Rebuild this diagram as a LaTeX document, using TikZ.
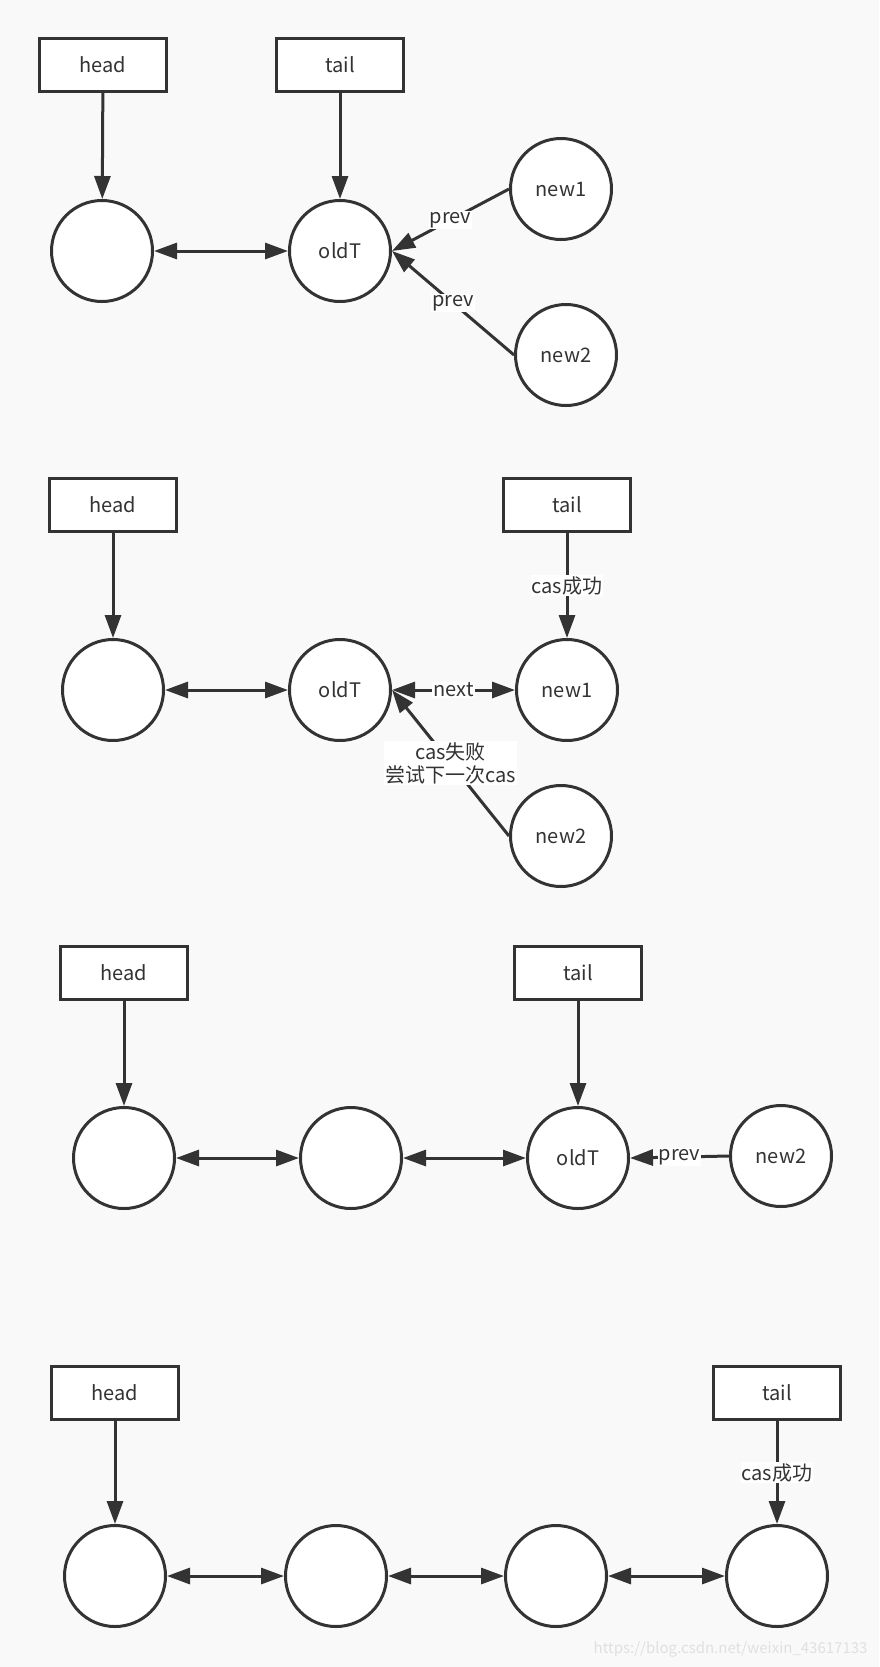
\documentclass[tikz,border=0pt]{standalone}
\usepackage{fontspec}
\setmainfont{Noto Sans CJK SC}
\usetikzlibrary{arrows.meta, positioning}
\definecolor{ink}{HTML}{333333}
\definecolor{paper}{HTML}{F9F9F9}
\tikzset{>={Triangle[length=23pt,width=16pt]}}

\begin{document}
\begin{tikzpicture}[x=1pt,y=-1pt,line width=3pt,color=ink,
    font=\fontsize{20}{23}\selectfont,
    ptr/.style={draw,fill=white,minimum width=127pt,minimum height=53pt,inner sep=0pt},
    cell/.style={circle,draw,fill=white,minimum size=101pt,inner sep=0pt},
    lbl/.style={fill=white,inner sep=1pt}]
    \useasboundingbox (0,0) rectangle (879,1667);
    \fill[paper] (0,0) rectangle (879,1667);
    % first: two new nodes point at oldT
    \node[ptr] (h1) at (103,65) {head};
    \node[ptr] (t1) at (340,65) {tail};
    \node[cell] (a1) at (102,251) {};
    \node[cell] (o1) at (340,251) {oldT};
    \node[cell] (n11) at (561,189) {new1};
    \node[cell] (n12) at (566,355) {new2};
    \path[->]
        (h1)     edge  (a1)
        (t1)     edge  (o1)
        (n11.west) edge node[lbl] {prev} (o1.east)
        (n12.west) edge node[lbl] {prev} (o1.east)
    ;
    \path[<->] (a1) edge (o1);
    % second: new1 wins the cas
    \node[ptr] (h2) at (113,505) {head};
    \node[ptr] (t2) at (567,505) {tail};
    \node[cell] (a2) at (113,690) {};
    \node[cell] (o2) at (340,690) {oldT};
    \node[cell] (n21) at (567,690) {new1};
    \node[cell] (n22) at (561,836) {new2};
    \path[->]
        (h2)     edge  (a2)
        (t2)     edge  node[lbl] {cas成功} (n21)
        (n22.west) edge node[lbl,align=center] {cas失败\\尝试下一次cas} (o2.east)
    ;
    \path[<->]
        (a2)     edge  (o2)
        (o2)     edge  node[lbl] {next} (n21)
    ;
    % third: new2 tries again
    \node[ptr] (h3) at (124,973) {head};
    \node[ptr] (t3) at (578,973) {tail};
    \node[cell] (a3) at (124,1158) {};
    \node[cell] (b3) at (351,1158) {};
    \node[cell] (o3) at (578,1158) {oldT};
    \node[cell] (n3) at (781,1156) {new2};
    \path[->]
        (h3)     edge  (a3)
        (t3)     edge  (o3)
        (n3.west) edge node[lbl] {prev} (o3.east)
    ;
    \path[<->]
        (a3)     edge  (b3)
        (b3)     edge  (o3)
    ;
    % fourth: new2 is the tail
    \node[ptr] (h4) at (115,1393) {head};
    \node[ptr] (t4) at (777,1393) {tail};
    \node[cell] (a4) at (115,1576) {};
    \node[cell] (b4) at (336,1576) {};
    \node[cell] (c4) at (556,1576) {};
    \node[cell] (d4) at (777,1576) {};
    \path[->]
        (h4)     edge  (a4)
        (t4)     edge  node[lbl] {cas成功} (d4)
    ;
    \path[<->]
        (a4)     edge  (b4)
        (b4)     edge  (c4)
        (c4)     edge  (d4)
    ;
    \node[text=black!12,font=\fontsize{15}{15}\selectfont,anchor=east,inner sep=0pt] (wm) at (869,1649) {https://blog.csdn.net/weixin\_43617133};
\end{tikzpicture}
\end{document}
